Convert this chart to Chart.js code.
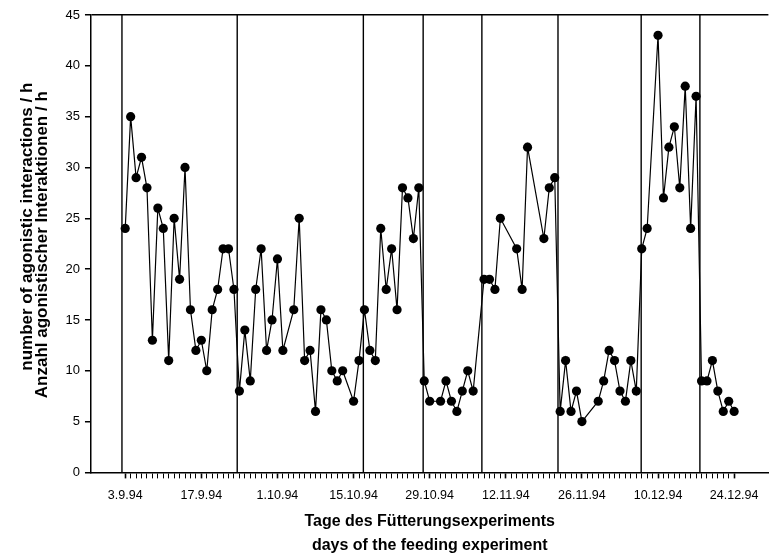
<!DOCTYPE html>
<html>
<head>
<meta charset="utf-8">
<script src="https://cdn.jsdelivr.net/npm/chart.js@4.4.0/dist/chart.umd.min.js"></script>
<style>
  html, body { margin: 0; padding: 0; background: #fff; }
  #wrap { width: 773px; height: 560px; position: relative; }
</style>
</head>
<body>
<div id="wrap"><canvas id="chart"></canvas></div>
<script>
// day 0 = 3.9.94
const days = [
  0, 1, 2, 3, 4, 5, 6, 7, 8, 9, 10, 11, 12, 13, 14, 15, 16, 17, 18, 19, 20,
  21, 22, 23, 24, 25, 26, 27, 28, 29, 31, 32, 33, 34, 35, 36, 37, 38, 39, 40,
  42, 43, 44, 45, 46, 47, 48, 49, 50, 51, 52, 53, 54,
  55, 56, 58, 59, 60, 61, 62, 63, 64,
  66, 67, 68, 69, 72, 73, 74, 77, 78, 79,
  80, 81, 82, 83, 84, 87, 88, 89, 90, 91, 92, 93, 94,
  95, 96, 98, 99, 100, 101, 102, 103, 104, 105,
  106, 107, 108, 109, 110, 111, 112
];
const values = [
  24, 35, 29, 31, 28, 13, 26, 24, 11, 25, 19, 30, 16, 12, 13, 10, 16, 18, 22, 22, 18,
  8, 14, 9, 18, 22, 12, 15, 21, 12, 16, 25, 11, 12, 6, 16, 15, 10, 9, 10,
  7, 11, 16, 12, 11, 24, 18, 22, 16, 28, 27, 23, 28,
  9, 7, 7, 9, 7, 6, 8, 10, 8,
  19, 19, 18, 25, 22, 18, 32, 23, 28, 29,
  6, 11, 6, 8, 5, 7, 9, 12, 11, 8, 7, 11, 8,
  22, 24, 43, 27, 32, 34, 28, 38, 24, 37,
  9, 9, 11, 8, 6, 7, 6
];
// boundaries between feeding phases (vertical lines)
const phaseDays = [-0.6, 20.6, 43.8, 54.8, 65.6, 79.6, 94.9, 105.7];

const tickDays = [0, 14, 28, 42, 56, 70, 84, 98, 112];
const tickLabels = ["3.9.94", "17.9.94", "1.10.94", "15.10.94", "29.10.94", "12.11.94", "26.11.94", "10.12.94", "24.12.94"];
const xTitle = ["Tage des Fütterungsexperiments", "days of the feeding experiment"];
const yTitle = ["number of agonistic interactions / h", "Anzahl agonistischer Interaktionen / h"];

const FONT = '"Liberation Sans", Arial, Helvetica, sans-serif';
Chart.defaults.font.family = FONT;
Chart.defaults.color = "#000";

const phaseSets = phaseDays.map((d) => ({
  type: "line",
  data: [{ x: d, y: 0 }, { x: d, y: 45 }],
  borderColor: "#000",
  borderWidth: 1.4,
  pointRadius: 0,
  order: 2,
}));

// two-line y title, drawn by hand so it can sit a little above the middle
const yTitlePlugin = {
  id: "yTitle",
  afterDraw(chart) {
    const ctx = chart.ctx;
    const mid = (chart.chartArea.top + chart.chartArea.bottom) / 2;
    ctx.save();
    ctx.font = "bold 17px " + FONT;
    ctx.fillStyle = "#000";
    ctx.textAlign = "center";
    ctx.textBaseline = "middle";
    ctx.rotate(-Math.PI / 2);
    ctx.fillText(yTitle[0], -(mid - 17), 27.5);
    ctx.fillText(yTitle[1], -(mid + 1), 42.5);
    ctx.restore();
  },
};

new Chart(document.getElementById("chart"), {
  type: "line",
  data: {
    datasets: [
      {
        data: days.map((d, i) => ({ x: d, y: values[i] })),
        borderColor: "#000",
        borderWidth: 1.2,
        pointRadius: 4.6,
        pointBackgroundColor: "#000",
        pointBorderColor: "#000",
        pointBorderWidth: 0,
        order: 1,
      },
      ...phaseSets,
    ],
  },
  options: {
    responsive: true,
    maintainAspectRatio: false,
    animation: false,
    layout: { padding: { left: 60.5, right: 2, top: 15, bottom: 0 } },
    plugins: { legend: { display: false }, tooltip: { enabled: false } },
    scales: {
      x: {
        type: "linear",
        min: -6.3,
        max: 118.3,
        afterBuildTicks: (scale) => {
          const t = [];
          for (let d = 0; d <= 112; d++) t.push({ value: d });
          scale.ticks = t;
        },
        grid: {
          drawOnChartArea: false,
          drawTicks: true,
          tickLength: 6,
          tickColor: "#000",
          tickWidth: (c) => (tickDays.includes(c.tick && c.tick.value) ? 1.6 : 1),
        },
        border: { display: true, color: "#000", width: 1.5 },
        ticks: {
          autoSkip: false,
          maxRotation: 0,
          padding: 10,
          font: { size: 12.5 },
          callback: (v) => {
            const i = tickDays.indexOf(v);
            return i >= 0 ? tickLabels[i] : "";
          },
        },
        title: {
          display: true,
          text: xTitle,
          font: { size: 16, weight: "bold", lineHeight: 1.5 },
          padding: { top: -3.4, bottom: 2 },
        },
      },
      y: {
        min: 0,
        max: 45,
        grid: {
          drawOnChartArea: true,
          drawTicks: true,
          tickLength: 6,
          tickColor: "#000",
          color: (c) => (c.tick && c.tick.value === 45 ? "#000" : "rgba(0,0,0,0)"),
          lineWidth: 1.5,
        },
        border: { display: true, color: "#000", width: 1.5 },
        ticks: { stepSize: 5, padding: 5, font: { size: 13 } },
      },
    },
  },
  plugins: [yTitlePlugin],
});
</script>
</body>
</html>
